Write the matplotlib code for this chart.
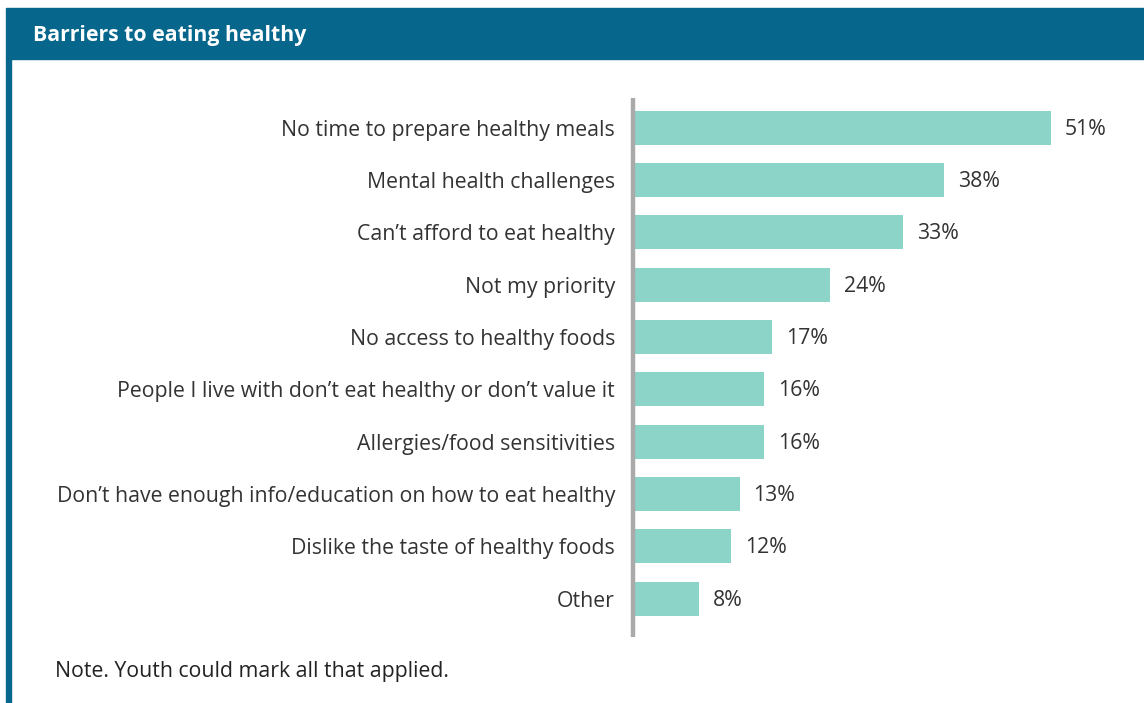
import matplotlib.pyplot as plt
from matplotlib.patches import Rectangle

# Survey responses (percent of youth), top to bottom
barriers = [
    "No time to prepare healthy meals",
    "Mental health challenges",
    "Can\u2019t afford to eat healthy",
    "Not my priority",
    "No access to healthy foods",
    "People I live with don\u2019t eat healthy or don\u2019t value it",
    "Allergies/food sensitivities",
    "Don\u2019t have enough info/education on how to eat healthy",
    "Dislike the taste of healthy foods",
    "Other",
]
percents = [51, 38, 33, 24, 17, 16, 16, 13, 12, 8]

TEAL = "#06668C"
BAR = "#8CD4C8"
TEXT = "#333333"
FS = 15.3

plt.rcParams['font.family'] = ['Open Sans', 'DejaVu Sans']

W, H = 1144, 703
fig = plt.figure(figsize=(W / 100, H / 100), dpi=100)

# header band and left frame line
fig.patches.append(Rectangle((6 / W, 1 - 59 / H), 1 - 6 / W, 51 / H,
                             transform=fig.transFigure, color=TEAL, zorder=0))
fig.patches.append(Rectangle((6 / W, 0), 5 / W, 1 - 59 / H,
                             transform=fig.transFigure, color=TEAL, zorder=0))
fig.text(33 / W, 1 - 36 / H, "Barriers to eating healthy", color="white",
         fontsize=FS, fontweight="bold", va="center", ha="left")

# axes placed in pixel coordinates
left, right, top, bottom = 633, 1130, 98, 637
ax = fig.add_axes([left / W, 1 - bottom / H, (right - left) / W, (bottom - top) / H])
px_per_pct = (1051 - left) / 51
ax.set_xlim(0, (right - left) / px_per_pct)
ax.set_ylim(9.73, -0.57)

y = list(range(len(barriers)))
ax.barh(y, percents, height=0.65, color=BAR)
for yi, p in zip(y, percents):
    ax.annotate(f"{p}%", (p, yi), xytext=(10, -1), textcoords="offset points",
                va="center", ha="left", fontsize=FS, color=TEXT)

ax.set_yticks(y)
ax.set_yticklabels(barriers, fontsize=FS, color=TEXT)
ax.tick_params(axis="y", length=0, pad=13)
ax.set_xticks([])
for s in ["top", "right", "bottom"]:
    ax.spines[s].set_visible(False)
ax.spines["left"].set_color("#AAAAAA")
ax.spines["left"].set_linewidth(3.2)
ax.spines["left"].set_capstyle("butt")

fig.text(55 / W, 1 - 672 / H, "Note. Youth could mark all that applied.",
         fontsize=FS, color="#222222", va="center", ha="left")

fig.savefig("out.png", dpi=100)
